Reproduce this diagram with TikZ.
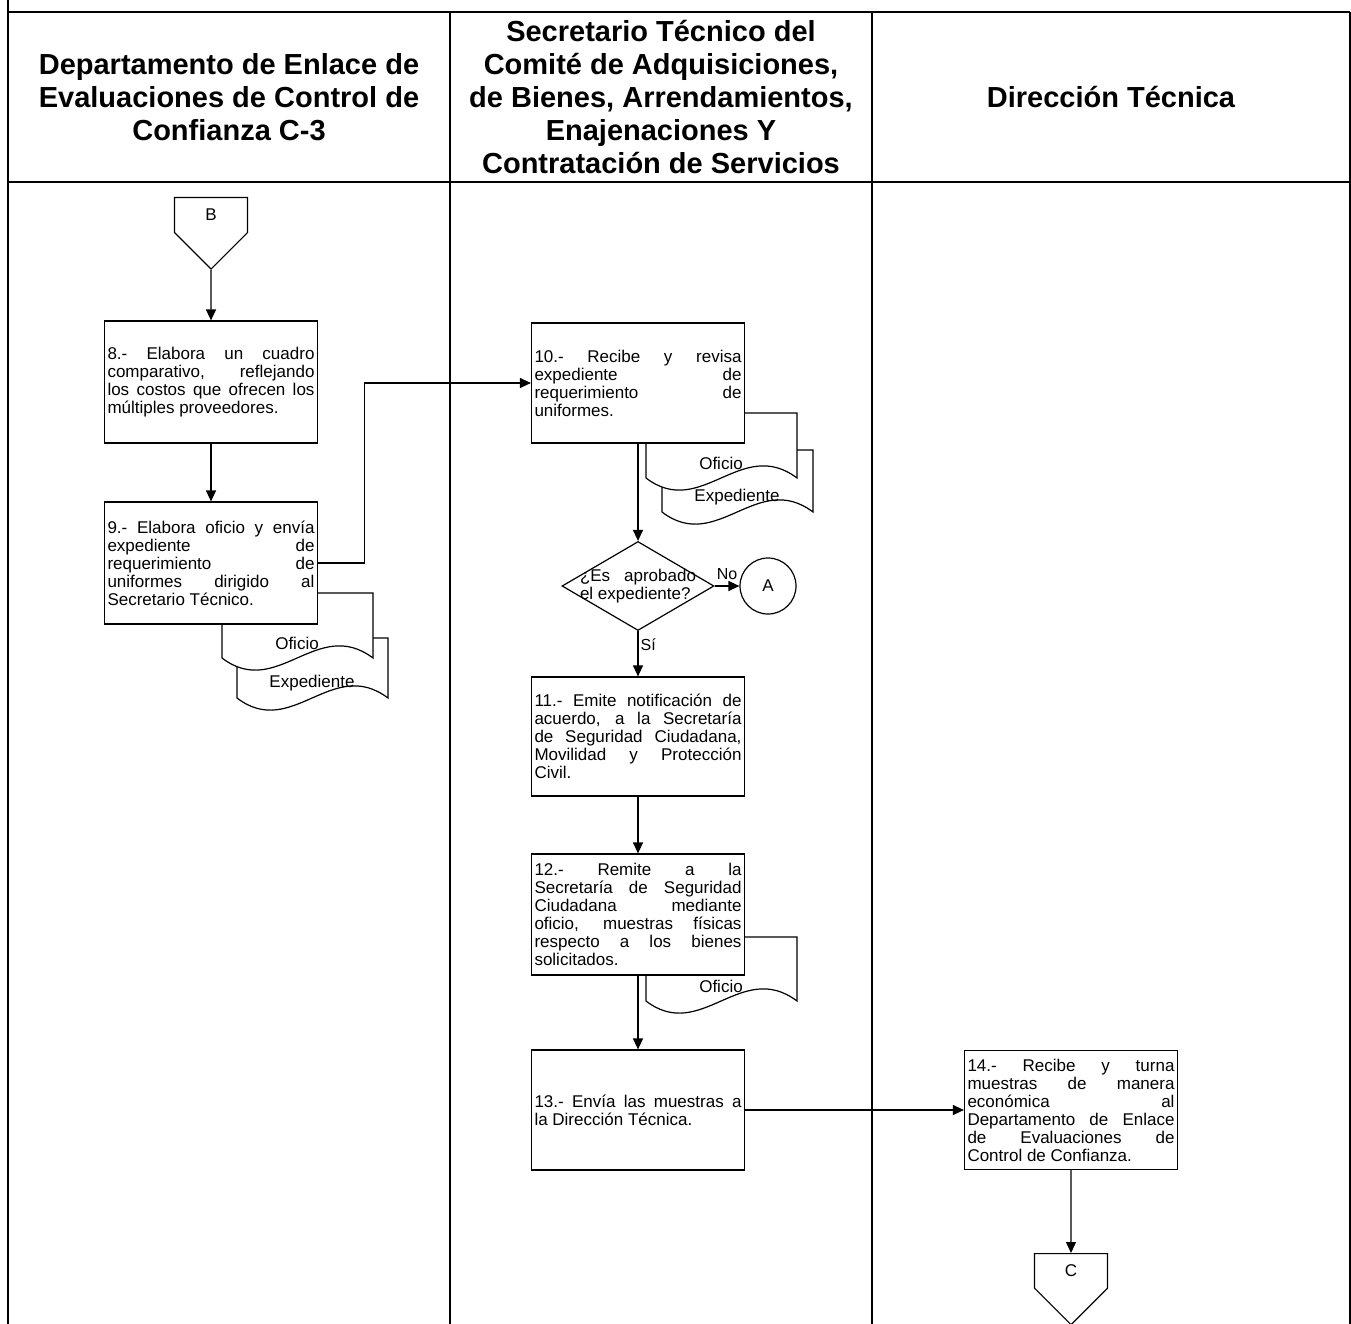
\documentclass[tikz,border=0pt]{standalone}
\usepackage{fontspec}
\setmainfont{Liberation Sans}
\usetikzlibrary{arrows.meta,positioning,calc,shapes.geometric,shapes.symbols}
\hyphenpenalty=10000
\exhyphenpenalty=10000

% sheet with wavy bottom: name, left, top, bottom, label
\newcommand{\docsheet}[5]{%
  \draw[sheet] (#2,#3) -- (#2+151,#3) -- (#2+151,#4)
    .. controls (#2+95,#4-42) and (#2+55,#4+42) .. (#2,#4) -- cycle;
  \node[sheetlabel] (#1) at (#2+75,#4-15) {#5};
}

\begin{document}
\begin{tikzpicture}[x=1pt,y=-1pt,>={Triangle[length=11pt,width=10pt]},every node/.style={font=\fontsize{17}{18}\selectfont}]
\tikzset{lane/.style={line width=2pt},
  head/.style={font=\fontsize{29}{33}\selectfont\bfseries,align=center},
  block/.style={draw,fill=white,line width=1.2pt,minimum width=213pt,text width=207pt,inner sep=3pt,align=justify},
  offpage/.style={signal,signal to=south,signal from=nowhere,draw,fill=white,line width=1.2pt,minimum width=73pt,minimum height=44pt,signal pointer angle=90},
  link/.style={circle,draw,fill=white,line width=1.2pt,minimum size=56pt,inner sep=0pt},
  decision/.style={diamond,draw,fill=white,line width=1.2pt,minimum width=152pt,minimum height=89pt,inner sep=0pt},
  sheet/.style={draw,fill=white,line width=1.2pt},
  sheetlabel/.style={inner sep=0pt},
  flow/.style={->,line width=1.2pt},
  tag/.style={font=\fontsize{16}{16}\selectfont,inner sep=2pt}}
\useasboundingbox (0,0) rectangle (1351,1324);

% lanes
\draw[lane] (8,0) -- (8,1324);
\draw[lane] (1350,12) -- (1350,1324);
\draw[lane] (450,12) -- (450,1324);
\draw[lane] (872,12) -- (872,1324);
\draw[lane] (8,12) -- (1350,12);
\draw[lane] (8,182) -- (1350,182);

\node[head] (h1) at (229,97) {Departamento de Enlace de\\Evaluaciones de Control de\\Confianza C-3};
\node[head] (h2) at (661,97) {Secretario Técnico del\\Comité de Adquisiciones,\\de Bienes, Arrendamientos,\\Enajenaciones Y\\Contratación de Servicios};
\node[head] (h3) at (1111,97) {Dirección Técnica};

% documents
\docsheet{ex9}{237}{638}{698}{Expediente}
\docsheet{of9}{222}{593}{658}{Oficio}
\docsheet{ex10}{662}{450}{512}{Expediente}
\docsheet{of10}{646}{413}{478}{Oficio}
\docsheet{of12}{646}{937}{1001}{Oficio}

% steps
\node[offpage,anchor=north] (conB) at (211,197) {B};
\node[block,minimum height=122pt] (b8) at (211,382) {8.- Elabora un cuadro\linebreak comparativo, reflejando\linebreak los costos que ofrecen los\linebreak múltiples proveedores.};
\node[block,minimum height=122pt] (b9) at (211,563) {9.- Elabora oficio y envía\linebreak expediente de\linebreak requerimiento de\linebreak uniformes dirigido al\linebreak Secretario Técnico.};
\node[block,minimum height=120pt] (b10) at (638,383) {10.- Recibe y revisa\linebreak expediente de\linebreak requerimiento de\linebreak uniformes.};
\node[decision] (dec) at (638,586) {};
\node[text width=116pt,align=justify,inner sep=0pt] (q) at (dec.center) {¿Es aprobado\linebreak el expediente?};
\node[link] (conA) at (768,586) {A};
\node[block,minimum height=119pt] (b11) at (638,736.5) {11.- Emite notificación de\linebreak acuerdo, a la Secretaría\linebreak de Seguridad Ciudadana,\linebreak Movilidad y Protección\linebreak Civil.};
\node[block,minimum height=121pt] (b12) at (638,914.5) {12.- Remite a la\linebreak Secretaría de Seguridad\linebreak Ciudadana mediante\linebreak oficio, muestras físicas\linebreak respecto a los bienes\linebreak solicitados.};
\node[block,minimum height=120pt] (b13) at (638,1110) {13.- Envía las muestras a\linebreak la Dirección Técnica.};
\node[block,minimum height=119pt] (b14) at (1071,1110) {14.- Recibe y turna\linebreak muestras de manera\linebreak económica al\linebreak Departamento de Enlace\linebreak de Evaluaciones de\linebreak Control de Confianza.};
\node[offpage,anchor=north] (conC) at (1071,1253) {C};

% flow
\draw[flow] (conB) -- (b8);
\draw[flow] (b8) -- (b9);
\draw[flow] (b9.east) -- ++(46,0) |- (b10);
\draw[flow] (b10) -- (dec);
\draw[flow] (dec) -- node[tag,above,inner sep=6pt] (no) {No} (conA);
\draw[flow] (dec) -- node[tag,right,pos=0.3] (si) {Sí} (b11);
\draw[flow] (b11) -- (b12);
\draw[flow] (b12) -- (b13);
\draw[flow] (b13) -- (b14);
\draw[flow] (b14) -- (conC);
\end{tikzpicture}
\end{document}
